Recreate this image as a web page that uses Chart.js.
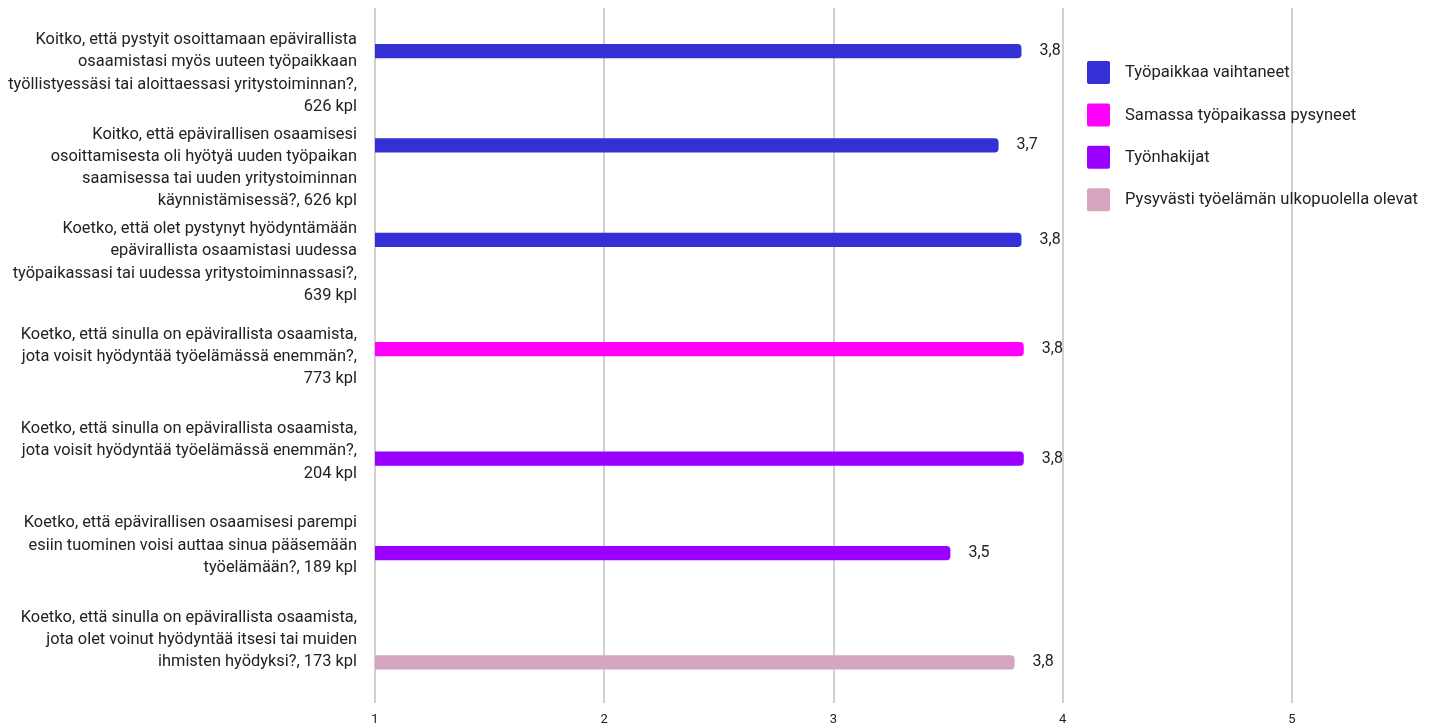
<!DOCTYPE html>
<html lang="fi">
<head>
<meta charset="utf-8">
<title>Epävirallisen osaamisen hyödyntäminen</title>
<script src="https://cdn.jsdelivr.net/npm/chart.js@4.4.1/dist/chart.umd.min.js"></script>
<style>
  html, body { margin: 0; padding: 0; background: #ffffff; }
  #wrap { position: relative; width: 1436px; height: 724px; }
</style>
</head>
<body>
<div id="wrap"><canvas id="chart" width="1436" height="724"></canvas></div>
<script>
// Questions (multi-line tick labels)
const categories = [
  ["Koitko, että pystyit osoittamaan epävirallista", "osaamistasi myös uuteen työpaikkaan", "työllistyessäsi tai aloittaessasi yritystoiminnan?,", "626 kpl"],
  ["Koitko, että epävirallisen osaamisesi", "osoittamisesta oli hyötyä uuden työpaikan", "saamisessa tai uuden yritystoiminnan", "käynnistämisessä?, 626 kpl"],
  ["Koetko, että olet pystynyt hyödyntämään", "epävirallista osaamistasi uudessa", "työpaikassasi tai uudessa yritystoiminnassasi?,", "639 kpl"],
  ["Koetko, että sinulla on epävirallista osaamista,", "jota voisit hyödyntää työelämässä enemmän?,", "773 kpl"],
  ["Koetko, että sinulla on epävirallista osaamista,", "jota voisit hyödyntää työelämässä enemmän?,", "204 kpl"],
  ["Koetko, että epävirallisen osaamisesi parempi", "esiin tuominen voisi auttaa sinua pääsemään", "työelämään?, 189 kpl"],
  ["Koetko, että sinulla on epävirallista osaamista,", "jota olet voinut hyödyntää itsesi tai muiden", "ihmisten hyödyksi?, 173 kpl"]
];

// Mean scores per respondent group (scale 1–5); null = question not asked from the group
const tyopaikkaaVaihtaneet  = [3.82, 3.72, 3.82, null, null, null, null];
const samassaPysyneet       = [null, null, null, 3.83, null, null, null];
const tyonhakijat           = [null, null, null, null, 3.83, 3.51, null];
const tyoelamanUlkopuolella = [null, null, null, null, null, null, 3.79];

const seriesNames = [
  "Työpaikkaa vaihtaneet",
  "Samassa työpaikassa pysyneet",
  "Työnhakijat",
  "Pysyvästi työelämän ulkopuolella olevat"
];
const seriesColors = ["#3430d6", "#ff00ff", "#9900ff", "#d5a6bd"];

const xTicks = [1, 2, 3, 4, 5];

const FONT = "Roboto, 'Noto Sans', sans-serif";
const TEXT = "#222222";
const GRID = "#d0d0d0";

// Value labels to the right of each bar, with a comma decimal separator
const valueLabels = {
  id: "valueLabels",
  afterDatasetsDraw(chart) {
    const ctx = chart.ctx;
    ctx.save();
    ctx.font = "16px " + FONT;
    ctx.fillStyle = TEXT;
    ctx.textAlign = "left";
    ctx.textBaseline = "middle";
    chart.data.datasets.forEach((ds, i) => {
      const meta = chart.getDatasetMeta(i);
      meta.data.forEach((bar, j) => {
        const v = ds.data[j].x;
        const txt = v.toFixed(1).replace(".", ",");
        ctx.fillText(txt, bar.x + 18, bar.y);
      });
    });
    ctx.restore();
  }
};

// Legend drawn inside the plot, top right
const sideLegend = {
  id: "sideLegend",
  afterDraw(chart) {
    const ctx = chart.ctx;
    const x0 = chart.width - 349;
    const y0 = 61;
    const step = 42.4;
    ctx.save();
    chart.data.datasets.forEach((ds, i) => {
      const y = y0 + i * step;
      ctx.fillStyle = ds.backgroundColor;
      ctx.beginPath();
      ctx.roundRect(x0, y, 23, 23, 2);
      ctx.fill();
      ctx.fillStyle = TEXT;
      ctx.font = "16.6px " + FONT;
      ctx.textAlign = "left";
      ctx.textBaseline = "middle";
      ctx.fillText(ds.label, x0 + 38, y + 12);
    });
    ctx.restore();
  }
};

// Each question sits at its own row index on the vertical axis
const toPoints = arr => arr
  .map((v, i) => (v === null ? null : { x: v, y: i }))
  .filter(p => p !== null);

const datasets = [tyopaikkaaVaihtaneet, samassaPysyneet, tyonhakijat, tyoelamanUlkopuolella].map((d, i) => ({
  label: seriesNames[i],
  data: toPoints(d),
  backgroundColor: seriesColors[i],
  borderRadius: 4,
  borderSkipped: "start",
  barPercentage: 0.95,
  categoryPercentage: 0.635
}));

new Chart(document.getElementById("chart"), {
  type: "bar",
  data: { datasets },
  options: {
    indexAxis: "y",
    responsive: false,
    animation: false,
    layout: { padding: { top: 8, right: 144, bottom: 0, left: 0 } },
    plugins: {
      legend: { display: false },
      tooltip: { enabled: false }
    },
    scales: {
      x: {
        type: "linear",
        position: "bottom",
        min: 1,
        max: 5,
        afterBuildTicks(scale) { scale.ticks = xTicks.map(v => ({ value: v })); },
        afterFit(scale) { scale.height = 21; scale.paddingLeft = 0; scale.paddingRight = 0; },
        grid: { color: GRID, lineWidth: 2, drawTicks: false },
        border: { display: false },
        ticks: { font: { size: 13, family: FONT }, color: TEXT, padding: 9 }
      },
      y: {
        type: "linear",
        reverse: true,
        offset: false,
        min: -0.694,
        max: 6.668,
        afterBuildTicks(scale) { scale.ticks = categories.map((c, i) => ({ value: i })); },
        afterFit(scale) {
          scale.width = 375;
          scale.paddingTop = 0;
          scale.paddingBottom = 0;
        },
        grid: { display: false },
        border: { display: false },
        ticks: {
          callback: v => categories[v],
          font: { size: 16.4, family: FONT, lineHeight: 1.36 },
          color: TEXT,
          padding: 10,
          autoSkip: false
        }
      }
    }
  },
  plugins: [valueLabels, sideLegend]
});
</script>
</body>
</html>
